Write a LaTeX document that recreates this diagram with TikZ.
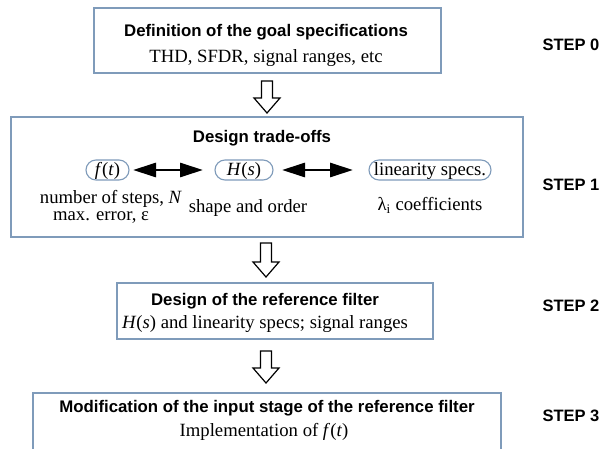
\documentclass[tikz,border=0pt]{standalone}
\usepackage{fontspec}
\setmainfont{Liberation Serif}
\newfontfamily\hsans{Liberation Sans}
\usetikzlibrary{arrows.meta,calc}
\definecolor{boxblue}{RGB}{127,155,186}
\newcommand\blockarrow[2]{\draw[hollow] ($(#1)+(-5.5,0)$) -- ($(#2)+(-5.5,-15)$) -- ($(#2)+(-13,-15)$) -- (#2) -- ($(#2)+(13,-15)$) -- ($(#2)+(5.5,-15)$) -- ($(#1)+(5.5,0)$) -- cycle;}
\begin{document}
\begin{tikzpicture}[x=1pt,y=-1pt,
  box/.style={draw=boxblue,line width=2.2pt,fill=white,inner sep=0pt,outer sep=0pt},
  oval/.style={draw=boxblue,line width=1.1pt,rounded corners=10pt,minimum height=20pt,inner sep=0pt,outer sep=0pt,
     font=\fontsize{18.7}{20}\selectfont,text height=14pt,text depth=2pt},
  hd/.style={font=\hsans\bfseries\fontsize{16.8}{19}\selectfont,anchor=base,inner sep=0pt},
  tx/.style={font=\fontsize{18.7}{20}\selectfont,anchor=base,inner sep=0pt},
  steplab/.style={font=\hsans\bfseries\fontsize{16.5}{18}\selectfont,anchor=base,inner sep=0pt},
  dbl/.style={{Triangle[length=23pt,width=14pt]}-{Triangle[length=23pt,width=14pt]},line width=2.8pt},
  hollow/.style={draw=black,line width=1.2pt,fill=white,line join=miter}]
\useasboundingbox (0,0) rectangle (602,449);
\clip (0,0) rectangle (602,449);

% boxes
\node[box,minimum width=347pt,minimum height=65pt] (b0) at (267.5,40.5) {};
\node[box,minimum width=512pt,minimum height=120pt] (b1) at (267,177) {};
\node[box,minimum width=316pt,minimum height=56pt] (b2) at (275,311) {};
\node[box,minimum width=468pt,minimum height=77pt] (b3) at (267,431.5) {};

% box 0 text
\node[hd] (t0a) at (266,37) {Definition of the goal specifications};
\node[tx] (t0b) at (266,63) {THD, SFDR, signal ranges, etc};

% box 1 text
\node[hd] (t1a) at (262,143) {Design trade-offs};
\node[oval,minimum width=43pt] (ft) at (107.5,170) {\textit{f}(\textit{t})};
\node[oval,minimum width=58pt] (hs) at (244,170) {\textit{H}(\textit{s})};
\node[oval,minimum width=122pt] (ls) at (430,170) {linearity specs.};
\draw[dbl,shorten <=4pt,shorten >=12pt] (ft.east) -- (hs.west);
\draw[dbl,shorten <=9pt,shorten >=16pt] (hs.east) -- (ls.west);
\node[tx] (n1) at (111,204) {number of steps, \textit{N}};
\node[tx] (n2) at (101,221) {max. error, ε};
\node[tx] (n3) at (248,212) {shape and order};
\node[tx] (n4) at (430,211) {λ\textsubscript{i} coefficients};

% box 2 text
\node[hd] (t2a) at (265,305) {Design of the reference filter};
\node[tx] (t2b) at (265,328) {\textit{H}(\textit{s}) and linearity specs; signal ranges};

% box 3 text
\node[hd] (t3a) at (267,412) {Modification of the input stage of the reference filter};
\node[tx] (t3b) at (264,436) {Implementation of \textit{f}(\textit{t})};

% step labels
\node[steplab] (s0) at (571,51) {STEP 0};
\node[steplab] (s1) at (571,191) {STEP 1};
\node[steplab] (s2) at (571,311) {STEP 2};
\node[steplab] (s3) at (571,421) {STEP 3};

% hollow arrows
\coordinate (a1s) at (267,81);  \coordinate (a1e) at (267,113);
\coordinate (a2s) at (266,243); \coordinate (a2e) at (266,277);
\coordinate (a3s) at (266,351); \coordinate (a3e) at (266,383);
\blockarrow{a1s}{a1e}
\blockarrow{a2s}{a2e}
\blockarrow{a3s}{a3e}
\end{tikzpicture}
\end{document}
